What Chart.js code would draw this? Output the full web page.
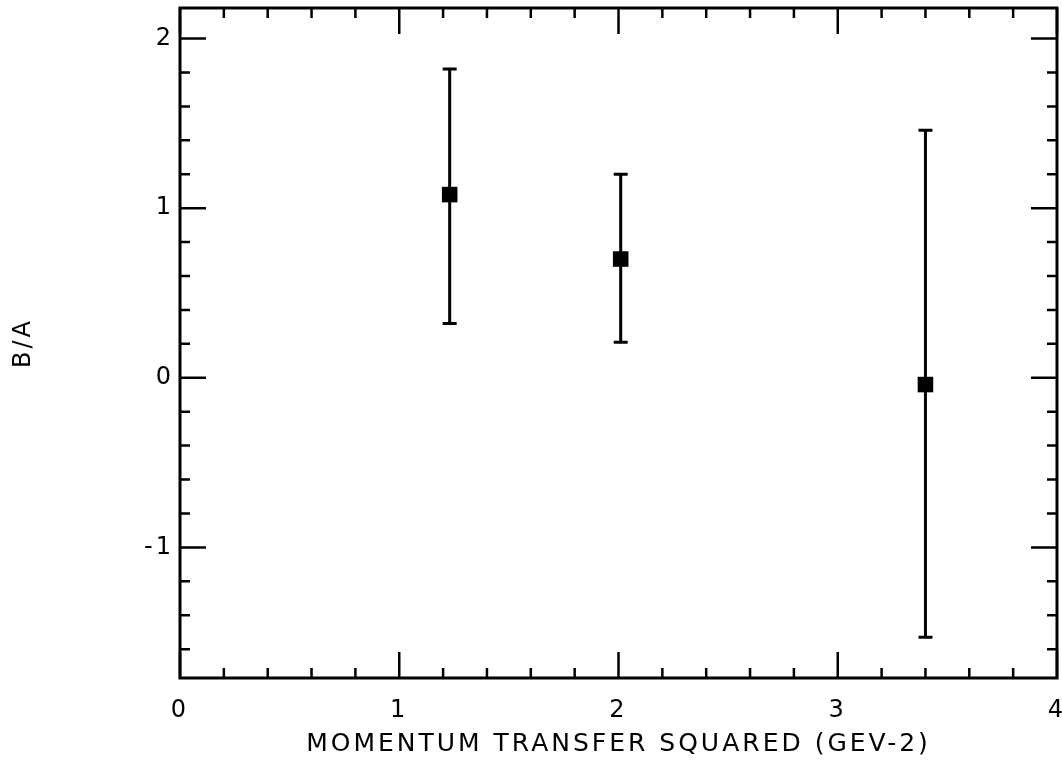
<!DOCTYPE html>
<html>
<head>
<meta charset="utf-8">
<script src="https://cdn.jsdelivr.net/npm/chart.js@4/dist/chart.umd.min.js"></script>
<style>
  html, body { margin: 0; padding: 0; background: #ffffff; }
  #c { display: block; }
</style>
</head>
<body>
<canvas id="c" width="1062" height="765"></canvas>
<script>
// ---- data ----
const momentumTransfer = [1.23, 2.01, 3.40];     // x, GeV^2
const ratioBA = [1.08, 0.70, -0.04];             // B/A central values
const ratioUpper = [1.82, 1.20, 1.46];           // upper end of error bar
const ratioLower = [0.32, 0.21, -1.53];          // lower end of error bar
const xTickValues = [0, 1, 2, 3, 4];
const yTickValues = [-1, 0, 1, 2];
const xTitle = 'MOMENTUM TRANSFER SQUARED (GEV-2)';
const yTitle = 'B/A';

const points = momentumTransfer.map((x, i) => ({ x: x, y: ratioBA[i], yMin: ratioLower[i], yMax: ratioUpper[i] }));

const FONT = '"DejaVu Sans", sans-serif';

const spacingPlugin = {
  id: 'letterSpacing',
  beforeDraw(chart) { chart.ctx.letterSpacing = '3px'; }
};

const framePlugin = {
  id: 'frameTicks',
  beforeDatasetsDraw(chart) {
    const { ctx, chartArea: a, scales: { x, y } } = chart;
    ctx.save();
    ctx.strokeStyle = '#000';
    ctx.lineWidth = 3;
    ctx.strokeRect(a.left, a.top, a.right - a.left, a.bottom - a.top);
    ctx.lineWidth = 2.5;
    const major = 26, minor = 10;
    for (let k = 0; k <= 20; k++) {
      const v = k * 0.2;
      const px = x.getPixelForValue(v);
      const len = (k % 5 === 0) ? major : minor;
      ctx.beginPath();
      ctx.moveTo(px, a.bottom); ctx.lineTo(px, a.bottom - len);
      ctx.moveTo(px, a.top); ctx.lineTo(px, a.top + len);
      ctx.stroke();
    }
    for (let k = -8; k <= 10; k++) {
      const v = k * 0.2;
      if (v < y.min || v > y.max) continue;
      const py = y.getPixelForValue(v);
      const len = (k % 5 === 0) ? major : minor;
      ctx.beginPath();
      ctx.moveTo(a.left, py); ctx.lineTo(a.left + len, py);
      ctx.moveTo(a.right, py); ctx.lineTo(a.right - len, py);
      ctx.stroke();
    }
    const ds = chart.data.datasets[0].data;
    ctx.lineWidth = 3;
    ds.forEach(p => {
      const px = x.getPixelForValue(p.x);
      const top = y.getPixelForValue(p.yMax);
      const bot = y.getPixelForValue(p.yMin);
      ctx.beginPath();
      ctx.moveTo(px, top); ctx.lineTo(px, bot);
      ctx.moveTo(px - 7, top); ctx.lineTo(px + 7, top);
      ctx.moveTo(px - 7, bot); ctx.lineTo(px + 7, bot);
      ctx.stroke();
    });
    ctx.restore();
  }
};

new Chart(document.getElementById('c'), {
  type: 'scatter',
  data: {
    datasets: [{
      data: points,
      pointStyle: 'rect',
      pointRadius: 11,
      pointHoverRadius: 11,
      backgroundColor: '#000',
      borderColor: '#000',
      borderWidth: 0,
      showLine: false
    }]
  },
  options: {
    responsive: false,
    devicePixelRatio: 1,
    animation: false,
    events: [],
    layout: { autoPadding: false, padding: { top: 8, right: 5, left: 0, bottom: 0 } },
    plugins: { legend: { display: false }, tooltip: { enabled: false } },
    scales: {
      x: {
        type: 'linear',
        min: 0, max: 4,
        afterBuildTicks: s => { s.ticks = xTickValues.map(v => ({ value: v })); },
        afterFit: s => { s.height = 87; s.paddingLeft = 0; s.paddingRight = 0; },
        grid: { display: false, drawTicks: false },
        border: { display: false },
        ticks: { color: '#000', padding: 18, font: { family: FONT, size: 24 } },
        title: { display: true, text: xTitle, color: '#000', padding: { top: 0, bottom: 6 }, font: { family: FONT, size: 25 } }
      },
      y: {
        type: 'linear',
        min: -1.77, max: 2.18,
        afterBuildTicks: s => { s.ticks = yTickValues.map(v => ({ value: v })); },
        afterFit: s => { s.width = 180; s.paddingTop = 0; s.paddingBottom = 0; },
        grid: { display: false, drawTicks: false },
        border: { display: false },
        ticks: { color: '#000', padding: 6, font: { family: FONT, size: 24 } },
        title: { display: true, text: yTitle, color: '#000', padding: { top: 9, bottom: 0 }, font: { family: FONT, size: 24 } }
      }
    }
  },
  plugins: [spacingPlugin, framePlugin]
});
</script>
</body>
</html>
